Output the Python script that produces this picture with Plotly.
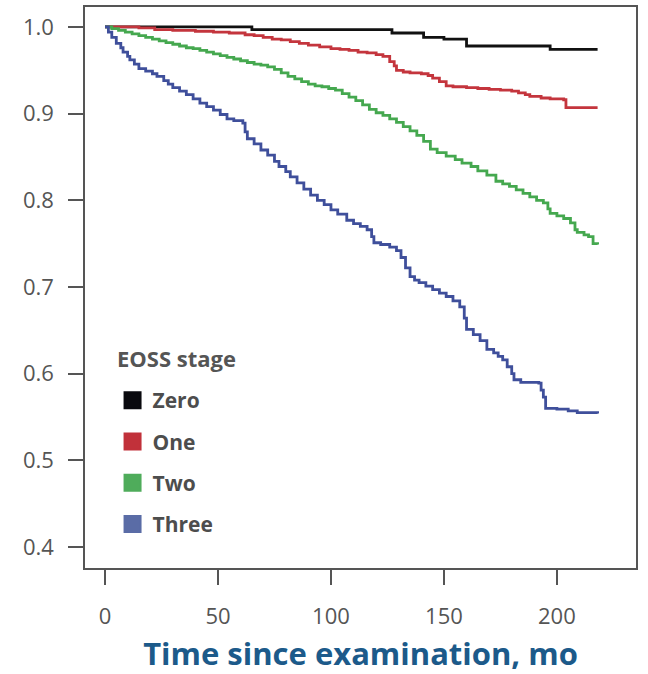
import plotly.graph_objects as go

# ---- data (Kaplan-Meier style survival curves) ----
stages = ["Zero", "One", "Two", "Three"]

t_zero = [0, 65, 127, 141, 150, 160, 197, 218]
s_zero = [1.0, 0.997, 0.993, 0.988, 0.986, 0.978, 0.974, 0.974]

t_one = [0, 10, 15, 22, 30, 40, 48, 55, 62, 66, 70, 74, 78, 82, 86, 90, 95, 100, 104,
         108, 112, 116, 120, 123, 126, 128, 129, 132, 135, 140, 143, 145, 148, 151, 154,
         160, 165, 170, 175, 180, 183, 186, 188, 193, 197, 203, 204, 218]
s_one = [1.0, 1.0, 0.999, 0.997, 0.996, 0.995, 0.994, 0.993, 0.991, 0.990, 0.988, 0.986,
         0.985, 0.983, 0.981, 0.979, 0.977, 0.975, 0.974, 0.973, 0.971, 0.970, 0.968,
         0.966, 0.960, 0.955, 0.950, 0.948, 0.947, 0.946, 0.944, 0.941, 0.937, 0.932,
         0.931, 0.930, 0.929, 0.928, 0.927, 0.926, 0.924, 0.922, 0.920, 0.918, 0.917,
         0.916, 0.907, 0.907]

t_two = [0, 3, 6, 9, 12, 15, 18, 21, 24, 27, 30, 33, 36, 39, 42, 45, 48, 51, 54, 57, 60,
         63, 66, 69, 72, 75, 78, 81, 84, 87, 90, 93, 96, 99, 102, 105, 108, 111, 114, 117,
         120, 123, 126, 129, 132, 135, 138, 141, 144, 147, 151, 155, 158, 162, 165, 169,
         173, 176, 179, 182, 185, 188, 191, 194, 196, 197, 200, 203, 206, 208, 209, 212,
         214, 216, 218]
s_two = [1.0, 0.998, 0.996, 0.994, 0.992, 0.990, 0.988, 0.986, 0.984, 0.982, 0.980, 0.978,
         0.976, 0.975, 0.973, 0.971, 0.969, 0.967, 0.965, 0.963, 0.961, 0.959, 0.957, 0.956,
         0.954, 0.951, 0.947, 0.943, 0.940, 0.937, 0.934, 0.932, 0.931, 0.929, 0.927, 0.923,
         0.919, 0.915, 0.910, 0.905, 0.901, 0.898, 0.894, 0.890, 0.885, 0.880, 0.875, 0.868,
         0.859, 0.855, 0.851, 0.847, 0.843, 0.839, 0.834, 0.829, 0.822, 0.819, 0.816, 0.812,
         0.808, 0.804, 0.800, 0.797, 0.790, 0.785, 0.782, 0.779, 0.774, 0.766, 0.763, 0.760,
         0.758, 0.750, 0.749]

t_three = [0, 1.5, 3, 5, 7, 8, 10, 11, 13, 15, 18, 21, 23, 26, 28, 30, 33, 36, 39, 42, 45,
           48, 51, 54, 57, 61, 62, 63, 66, 69, 72, 75, 77, 80, 82, 85, 88, 91, 94, 97, 100,
           103, 107, 110, 113, 116, 118, 119, 122, 126, 129, 131, 133, 135, 137, 139, 142,
           145, 148, 151, 154, 157, 159, 160, 163, 166, 169, 172, 174, 176, 178, 180, 181,
           184, 188, 192, 193, 194, 195, 200, 205, 209, 218]
s_three = [1.0, 0.994, 0.988, 0.981, 0.976, 0.971, 0.966, 0.962, 0.957, 0.952, 0.949, 0.946,
           0.943, 0.938, 0.934, 0.930, 0.926, 0.922, 0.917, 0.912, 0.908, 0.904, 0.899, 0.894,
           0.892, 0.889, 0.879, 0.871, 0.865, 0.858, 0.852, 0.845, 0.839, 0.833, 0.827, 0.820,
           0.813, 0.806, 0.800, 0.795, 0.789, 0.784, 0.777, 0.773, 0.770, 0.766, 0.758, 0.751,
           0.749, 0.746, 0.742, 0.734, 0.722, 0.712, 0.708, 0.705, 0.701, 0.697, 0.693, 0.689,
           0.684, 0.677, 0.664, 0.651, 0.645, 0.638, 0.628, 0.624, 0.620, 0.616, 0.608, 0.600,
           0.593, 0.590, 0.590, 0.589, 0.581, 0.573, 0.560, 0.559, 0.557, 0.555, 0.554]

x_tick_vals = [0, 50, 100, 150, 200]
y_tick_vals = [0.4, 0.5, 0.6, 0.7, 0.8, 0.9, 1.0]
y_tick_text = ["0.4", "0.5", "0.6", "0.7", "0.8", "0.9", "1.0"]
legend_title = "EOSS stage"
x_title = "Time since examination, mo"

series = [
    ("Zero", t_zero, s_zero, "#111111", "#0a0a0f"),
    ("One", t_one, s_one, "#c4353d", "#c1313a"),
    ("Two", t_two, s_two, "#45a84f", "#4fac5b"),
    ("Three", t_three, s_three, "#3f4f9b", "#5a6ca6"),
]

fig = go.Figure()
for name, t, s, lc, mc in series:
    fig.add_trace(go.Scatter(
        x=t, y=s, mode="lines", name=name, legendgroup=name, showlegend=False,
        line=dict(color=lc, width=2.8, shape="hv"), hoverinfo="skip"))
for name, t, s, lc, mc in series:
    fig.add_trace(go.Scatter(
        x=[None], y=[None], mode="markers", name=name, legendgroup=name,
        marker=dict(symbol="square", size=16, color=mc, line=dict(color=mc, width=2))))

axis_color = "#555555"
fig.update_layout(
    width=648, height=674,
    margin=dict(l=85, r=12, t=7, b=106, autoexpand=False),
    paper_bgcolor="white", plot_bgcolor="white",
    font=dict(family="Open Sans", color=axis_color),
    showlegend=True,
    legend=dict(
        x=0.05, y=0.335, xanchor="left", yanchor="top",
        bgcolor="rgba(0,0,0,0)",
        font=dict(family="Open Sans", size=21, color="#4d4d4d", weight="bold"),
        tracegroupgap=11,
    ),
    annotations=[dict(
        text=legend_title, xref="paper", yref="paper", x=0.0544, y=0.3743,
        xanchor="left", yanchor="middle", showarrow=False,
        font=dict(family="Open Sans", size=22, color="#555555", weight="bold"))],
    xaxis=dict(
        range=[-8.85, 235], tickvals=x_tick_vals, automargin=False,
        showline=True, mirror=True, linecolor=axis_color, linewidth=1.5,
        ticks="outside", ticklen=15, tickwidth=1.5, tickcolor=axis_color,
        tickfont=dict(size=22, color=axis_color), ticklabelstandoff=13,
        showgrid=False, zeroline=False,
        title=dict(text=x_title, standoff=20,
                   font=dict(family="Open Sans", size=31, color="#1c5a8a", weight="bold")),
    ),
    yaxis=dict(
        range=[0.3758, 1.023], tickvals=y_tick_vals, ticktext=y_tick_text, automargin=False,
        showline=True, mirror=True, linecolor=axis_color, linewidth=1.5,
        ticks="outside", ticklen=15, tickwidth=1.5, tickcolor=axis_color,
        tickfont=dict(size=22, color=axis_color), ticklabelstandoff=10,
        showgrid=False, zeroline=False,
    ),
)

fig.write_html("out.html")
